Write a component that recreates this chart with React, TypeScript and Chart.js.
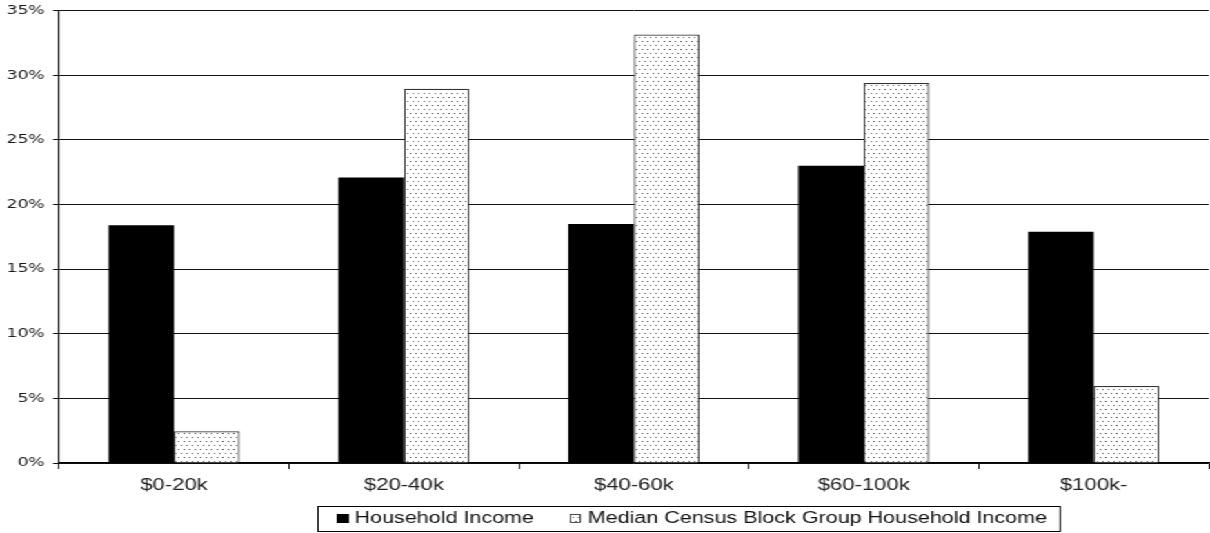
import React, { useEffect, useRef } from "react";
import { Chart, registerables } from "chart.js";

Chart.register(...registerables);

const categories = ["$0-20k", "$20-40k", "$40-60k", "$60-100k", "$100k-"];
const householdIncome = [18.4, 22.1, 18.5, 23.0, 17.9];
const medianBlockGroupIncome = [2.45, 28.95, 33.15, 29.4, 5.95];
const seriesNames = ["Household Income", "Median Census Block Group Household Income"];
const yTicks = [0, 5, 10, 15, 20, 25, 30, 35];

const OUTER_W = 1210;
const INNER_W = 877;
const H = 533;
const SX = OUTER_W / INNER_W;

function makeDots(): CanvasPattern | string {
  const c = document.createElement("canvas");
  c.width = 4;
  c.height = 8;
  const g = c.getContext("2d");
  if (!g) return "#fff";
  g.fillStyle = "#ffffff";
  g.fillRect(0, 0, 4, 8);
  g.fillStyle = "#444444";
  g.fillRect(1, 1, 1, 1);
  g.fillStyle = "#666666";
  g.fillRect(3, 5, 1, 1);
  const p = g.createPattern(c, "repeat");
  return p || "#fff";
}

export default function App() {
  const ref = useRef<HTMLCanvasElement | null>(null);

  useEffect(() => {
    if (!ref.current) return;
    const dots = makeDots();

    const boxLegend = {
      id: "boxLegend",
      afterDraw(chart: any) {
        const ctx = chart.ctx as CanvasRenderingContext2D;
        ctx.save();
        ctx.font = '15.6px "Liberation Sans", Arial, sans-serif';
        ctx.textBaseline = "middle";
        const top = 506;
        const h = 25;
        const left = 230;
        const cy = top + h / 2;
        let x = left + 14;
        const w1 = ctx.measureText(seriesNames[0]).width;
        const w2 = ctx.measureText(seriesNames[1]).width;
        ctx.fillStyle = "#000";
        ctx.fillRect(x, cy - 4.5, 9, 9);
        x += 13;
        ctx.fillStyle = "#111";
        ctx.fillText(seriesNames[0], x, cy + 0.5);
        x += w1 + 26;
        ctx.fillStyle = dots as any;
        ctx.fillRect(x, cy - 4, 7, 8);
        ctx.strokeStyle = "#222";
        ctx.lineWidth = 0.8;
        ctx.strokeRect(x + 0.4, cy - 4, 7, 8);
        x += 13;
        ctx.fillStyle = "#111";
        ctx.fillText(seriesNames[1], x, cy + 0.5);
        x += w2 + 9;
        ctx.strokeStyle = "#000";
        ctx.lineWidth = 1;
        ctx.strokeRect(left + 0.5, top + 0.5, x - left, h);
        ctx.restore();
      },
    };

    const chart = new Chart(ref.current, {
      type: "bar",
      data: {
        labels: categories,
        datasets: [
          {
            label: seriesNames[0],
            data: householdIncome,
            backgroundColor: "#000000",
            borderWidth: 0,
            barPercentage: 1,
            categoryPercentage: 0.57,
          },
          {
            label: seriesNames[1],
            data: medianBlockGroupIncome,
            backgroundColor: dots as any,
            borderColor: "#333333",
            borderWidth: 1.2,
            barPercentage: 1,
            categoryPercentage: 0.57,
          },
        ],
      },
      options: {
        responsive: false,
        animation: false,
        layout: { padding: { top: 4, right: 1, left: 0, bottom: 0 } },
        plugins: {
          legend: { display: false },
          tooltip: { enabled: false },
        },
        scales: {
          x: {
            afterFit: (s: any) => {
              s.height = 70;
            },
            grid: {
              offset: true,
              drawOnChartArea: false,
              drawTicks: true,
              tickLength: 6,
              color: "#000",
              lineWidth: 0.9,
            },
            border: { display: true, color: "#000", width: 1.3 },
            ticks: {
              color: "#222",
              padding: 7,
              font: { family: '"Liberation Sans", Arial, sans-serif', size: 16 },
              maxRotation: 0,
            },
          },
          y: {
            min: 0,
            max: 35,
            afterFit: (s: any) => {
              s.width = 42.8;
            },
            afterBuildTicks: (s: any) => {
              s.ticks = yTicks.map((v) => ({ value: v }));
            },
            grid: {
              color: "#111",
              lineWidth: 1,
              tickLength: 4.3,
              drawTicks: true,
            },
            border: { display: true, color: "#000", width: 1.1 },
            ticks: {
              color: "#1a1a1a",
              padding: 6,
              font: { family: '"DejaVu Sans", Verdana, sans-serif', size: 12.5, lineHeight: 0.75 },
              callback: (v: any) => `${v}%`,
            },
          },
        },
      },
      plugins: [boxLegend],
    });
    return () => chart.destroy();
  }, []);

  return (
    <div
      style={{
        position: "absolute",
        left: 0,
        top: 0,
        width: INNER_W,
        height: H,
        background: "#fff",
        transform: `scaleX(${SX})`,
        transformOrigin: "0 0",
      }}
    >
      <canvas ref={ref} width={INNER_W} height={H} />
    </div>
  );
}
